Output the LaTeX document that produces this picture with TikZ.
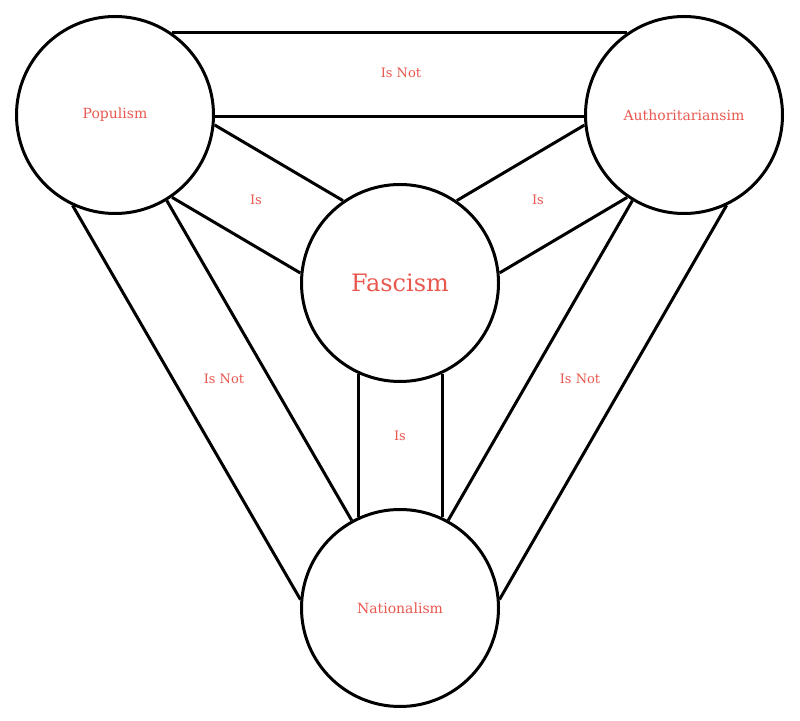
\documentclass[tikz,border=0pt]{standalone}
\usepackage{fontspec}
\setmainfont{DejaVu Serif}
\usetikzlibrary{calc}
\definecolor{lbl}{HTML}{E8584F}
\tikzset{x=1pt,y=1pt,
 circ/.style={circle,draw,line width=3pt,minimum size=197pt,inner sep=0pt,text=lbl,font=\fontsize{14}{16}\selectfont},
 lab/.style={text=lbl,font=\fontsize{13}{15}\selectfont},
 band/.style={line width=3pt}}
\newcommand{\bandline}[4]{\draw[band,shorten <=#4pt,shorten >=#4pt] ($(#1)!#3pt!90:(#2)$) -- ($(#2)!#3pt!-90:(#1)$);}
\begin{document}
\begin{tikzpicture}
\useasboundingbox (0,0) rectangle (800,720);
\node[circ] (pop) at (115,605) {Populism};
\node[circ] (aut) at (684,605) {Authoritariansim};
\node[circ,font=\fontsize{24}{28}\selectfont] (fas) at (400,437) {Fascism};
\node[circ] (nat) at (400,112) {Nationalism};
\bandline{pop.center}{aut.center}{82}{57}
\bandline{pop.center}{aut.center}{-2}{100}
\bandline{pop.center}{nat.center}{-82}{57}
\bandline{pop.center}{nat.center}{2}{100}
\bandline{aut.center}{nat.center}{82}{57}
\bandline{aut.center}{nat.center}{-2}{100}
\bandline{pop.center}{fas.center}{42}{91}
\bandline{pop.center}{fas.center}{-42}{91}
\bandline{aut.center}{fas.center}{42}{91}
\bandline{aut.center}{fas.center}{-42}{91}
\bandline{fas.center}{nat.center}{42}{91}
\bandline{fas.center}{nat.center}{-42}{91}
\node[lab] (l1) at (401,647) {Is Not};
\node[lab] (l2) at (256,520) {Is};
\node[lab] (l3) at (538,520) {Is};
\node[lab] (l4) at (400,284) {Is};
\node[lab] (l5) at (224,341) {Is Not};
\node[lab] (l6) at (580,341) {Is Not};
\end{tikzpicture}
\end{document}
